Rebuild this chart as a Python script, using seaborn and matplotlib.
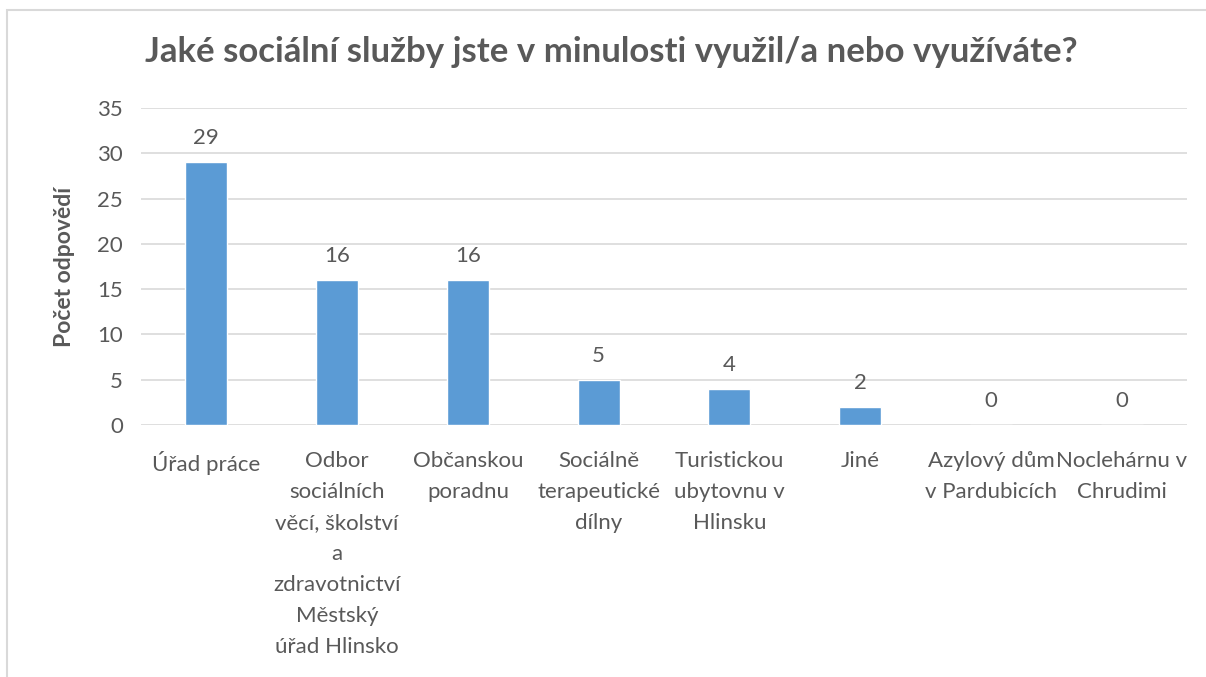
import matplotlib
matplotlib.use("Agg")
import matplotlib.pyplot as plt
import seaborn as sns
import pandas as pd
from matplotlib.patches import Rectangle

categories = [
    "Úřad práce",
    "Odbor\nsociálních\nvěcí, školství\na\nzdravotnictví\nMěstský\núřad Hlinsko",
    "Občanskou\nporadnu",
    "Sociálně\nterapeutické\ndílny",
    "Turistickou\nubytovnu v\nHlinsku",
    "Jiné",
    "Azylový dům\nv Pardubicích",
    "Noclehárnu v\nChrudimi",
]
values = [29, 16, 16, 5, 4, 2, 0, 0]
yticks = [0, 5, 10, 15, 20, 25, 30, 35]
title = "Jaké sociální služby jste v minulosti využil/a nebo využíváte?"
ylabel = "Počet odpovědí"

sns.set_theme(style="white")
plt.rcParams['font.family'] = ['Lato', 'DejaVu Sans']

df = pd.DataFrame({"cat": categories, "val": values})
fig = plt.figure(figsize=(12.06, 6.77), dpi=100)
ax = fig.add_axes([0.1169, 0.3722, 0.8674, 0.4683])
txt = "#595959"
fs = 16
sns.barplot(data=df, x="cat", y="val", color="#5B9BD5", width=0.32,
            saturation=1, ax=ax, zorder=3)
ax.set_ylim(0, 35)
ax.set_yticks(yticks)
ax.set_yticklabels([str(t) for t in yticks], fontsize=fs, color=txt)
ax.grid(axis="y", color="#D9D9D9", linewidth=1.2, zorder=0)
ax.set_axisbelow(True)
for s in ax.spines.values():
    s.set_visible(False)
ax.tick_params(axis="both", length=0)
ax.tick_params(axis="x", pad=19)
ax.tick_params(axis="y", pad=13)
ax.set_xlabel("")
for lbl in ax.get_xticklabels():
    lbl.set_fontsize(fs)
    lbl.set_color(txt)
    lbl.set_linespacing(1.68)
    lbl.set_verticalalignment("top")
ax.set_ylabel(ylabel, fontsize=16.5, fontweight="bold", color=txt, labelpad=16)
for i, v in enumerate(values):
    ax.annotate(str(v), (i, v), xytext=(0, 10), textcoords="offset points",
                ha="center", va="bottom", fontsize=fs, color=txt)
fig.text(0.507, 0.923, title, ha="center", va="center", fontsize=25,
         fontweight="bold", color=txt)
fig.patches.append(Rectangle((7/1206, -0.1), 1.2, (1 - 10/677) + 0.1,
                             transform=fig.transFigure, fill=False,
                             edgecolor="#D9D9D9", linewidth=1.5))
fig.savefig("out.png", dpi=100)
